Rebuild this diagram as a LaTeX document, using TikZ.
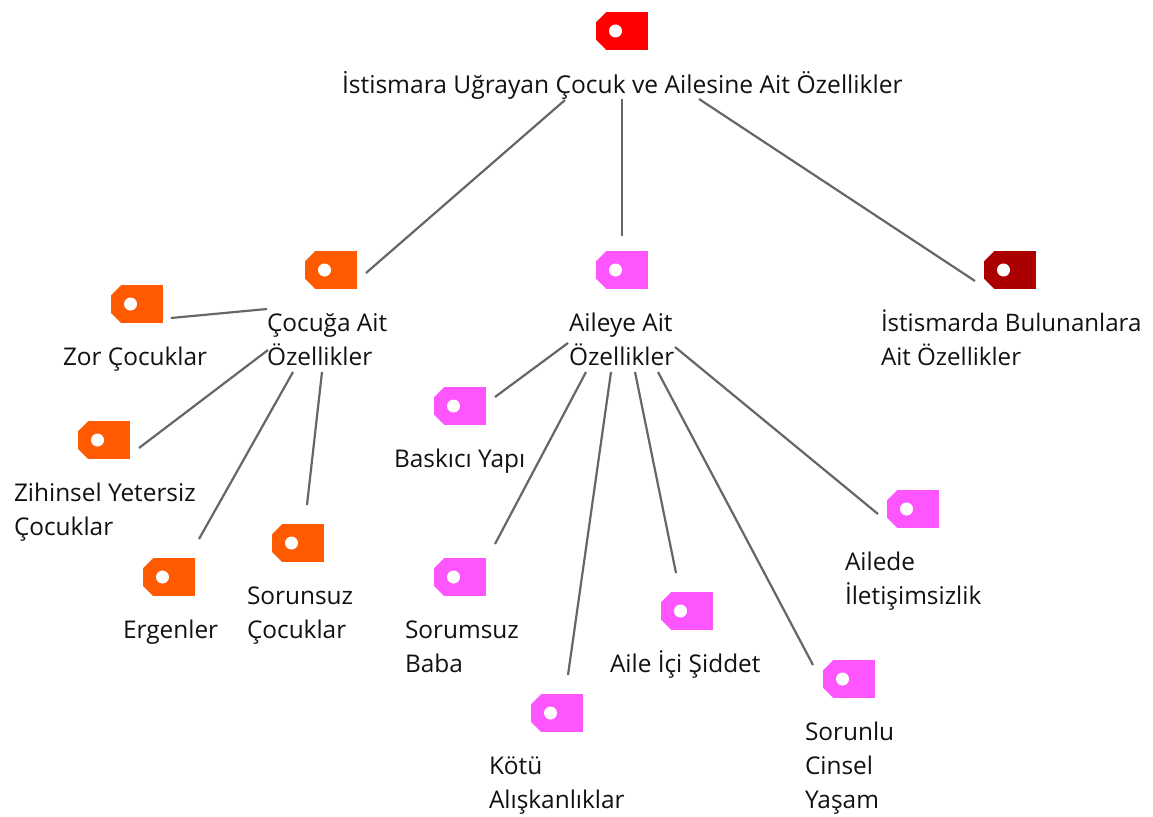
\documentclass[tikz,border=0pt]{standalone}
\usepackage{fontspec}
\setmainfont{Open Sans}
\definecolor{tagred}{HTML}{FF0000}
\definecolor{tagorange}{HTML}{FF5A00}
\definecolor{tagpink}{HTML}{FF55FF}
\definecolor{tagdark}{HTML}{AA0000}
\definecolor{linkgray}{HTML}{666666}
\definecolor{labelink}{HTML}{111111}
\tikzset{
  tagbox/.style={shape=rectangle,minimum width=52pt,minimum height=38pt,
    inner sep=0pt,outer sep=0pt,fill=#1,
    path picture={
      \fill[white] ([xshift=19.5pt]path picture bounding box.west) circle (6.5pt);
      \fill[white] (path picture bounding box.north west) -- ++(10pt,0) -- ++(-10pt,-10pt) -- cycle;
      \fill[white] (path picture bounding box.south west) -- ++(10pt,0) -- ++(-10pt,10pt) -- cycle;
    }},
  labeltext/.style={anchor=base west,inner sep=0pt,outer sep=0pt,align=left,text=labelink,
    font=\fontsize{24.4}{34}\selectfont},
  linkline/.style={draw=linkgray,line width=2.2pt}
}
\newcommand{\linkit}[6]{\draw[linkline] ([shift={(#2,#3)}]#1.center) -- ([shift={(#5,#6)}]#4.center);}
\begin{document}
\begin{tikzpicture}[x=1pt,y=-1pt]
\useasboundingbox (0,0) rectangle (1153,816);
% tags
\node[tagbox=tagred]    (root)  at (622,31) {};
\node[tagbox=tagorange] (cocuk) at (331,270) {};
\node[tagbox=tagpink]   (aile)  at (622,270) {};
\node[tagbox=tagdark]   (ist)   at (1010,270) {};
\node[tagbox=tagorange] (zor)   at (137,304) {};
\node[tagbox=tagorange] (zih)   at (104,440) {};
\node[tagbox=tagorange] (erg)   at (169,577) {};
\node[tagbox=tagorange] (sorz)  at (298,543) {};
\node[tagbox=tagpink]   (bas)   at (460,406) {};
\node[tagbox=tagpink]   (sorm)  at (460,577) {};
\node[tagbox=tagpink]   (kot)   at (557,713) {};
\node[tagbox=tagpink]   (sid)   at (687,611) {};
\node[tagbox=tagpink]   (sorl)  at (849,679) {};
\node[tagbox=tagpink]   (ilet)  at (913,509) {};
% labels
\node[labeltext,font=\fontsize{24.6}{34}\selectfont] (lroot)  at (342,93)  {İstismara Uğrayan Çocuk ve Ailesine Ait Özellikler};
\node[labeltext] (lcocuk) at (267,365) {Çocuğa Ait\\Özellikler};
\node[labeltext] (laile)  at (569,365) {Aileye Ait\\Özellikler};
\node[labeltext,font=\fontsize{24.1}{34}\selectfont] (list)   at (881,365) {İstismarda Bulunanlara\\Ait Özellikler};
\node[labeltext] (lzor)   at (63,365)  {Zor Çocuklar};
\node[labeltext] (lzih)   at (14,535)  {Zihinsel Yetersiz\\Çocuklar};
\node[labeltext] (lerg)   at (123,638) {Ergenler};
\node[labeltext] (lsorz)  at (247,638) {Sorunsuz\\Çocuklar};
\node[labeltext] (lbas)   at (394,467) {Baskıcı Yapı};
\node[labeltext] (lsorm)  at (405,672) {Sorumsuz\\Baba};
\node[labeltext] (lkot)   at (489,808) {Kötü\\Alışkanlıklar};
\node[labeltext] (lsid)   at (610,672) {Aile İçi Şiddet};
\node[labeltext] (lsorl)  at (805,808) {Sorunlu\\Cinsel\\Yaşam};
\node[labeltext] (lilet)  at (845,604) {Ailede\\İletişimsizlik};
% connectors
\linkit{root}{-57}{69}{cocuk}{35}{3}
\linkit{root}{0}{68}{aile}{0}{-34}
\linkit{root}{77}{68}{ist}{-35}{11}
\linkit{cocuk}{-64}{39}{zor}{34}{14}
\linkit{cocuk}{-63}{80}{zih}{35}{8}
\linkit{cocuk}{-38}{102}{erg}{30}{-38}
\linkit{cocuk}{-9}{102}{sorz}{9}{-38}
\linkit{aile}{-54}{73}{bas}{35}{-9}
\linkit{aile}{-36}{102}{sorm}{35}{-33}
\linkit{aile}{-11}{102}{kot}{11}{-38}
\linkit{aile}{13}{102}{sid}{-11}{-38}
\linkit{aile}{36}{102}{sorl}{-36}{-14}
\linkit{aile}{53}{77}{ilet}{-35}{5}
\end{tikzpicture}
\end{document}
